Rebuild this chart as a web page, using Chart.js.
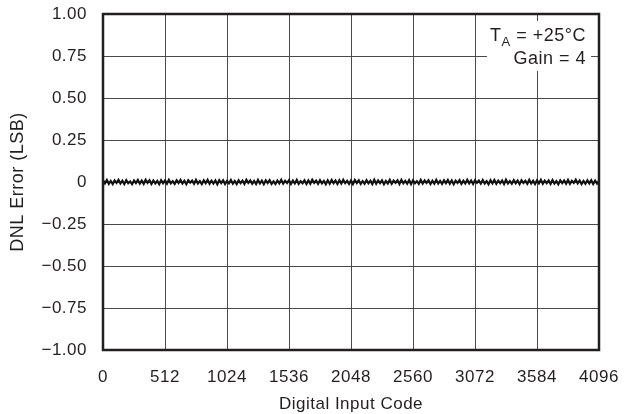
<!DOCTYPE html>
<html>
<head>
<meta charset="utf-8">
<script src="https://cdn.jsdelivr.net/npm/chart.js@4.4.0/dist/chart.umd.min.js"></script>
<style>
  html, body { margin: 0; padding: 0; background: #fff; }
  #wrap { width: 633px; height: 414px; }
</style>
</head>
<body>
<div id="wrap"><canvas id="dnlChart"></canvas></div>
<script>
// DNL error, one sample every 16 codes (LSB)
const codeStep = 16;
const dnlError = [
   0.010, -0.008,  0.012, -0.011,  0.006, -0.012,  0.009, -0.005,  0.013, -0.009,
   0.007, -0.012,  0.011, -0.007,  0.004, -0.013,  0.009, -0.006,  0.012, -0.010,
   0.008, -0.011,  0.013, -0.005,  0.010, -0.012,  0.009, -0.008,  0.006, -0.013,
   0.011, -0.007,  0.009, -0.010,  0.013, -0.008,  0.005, -0.011,  0.010, -0.006,
   0.012, -0.009,  0.007, -0.013,  0.010, -0.004,  0.008, -0.011,  0.012, -0.009,
   0.005, -0.012,  0.010, -0.007,  0.013, -0.010,  0.008, -0.009,  0.009, -0.013,
   0.011, -0.006,  0.010, -0.012,  0.007, -0.008,  0.012, -0.010,  0.006, -0.012,
   0.010, -0.007,  0.008, -0.011,  0.013, -0.005,  0.009, -0.010,  0.006, -0.012,
   0.012, -0.009,  0.008, -0.013,  0.010, -0.006,  0.011, -0.011,  0.004, -0.012,
   0.009, -0.008,  0.013, -0.010,  0.007, -0.006,  0.011, -0.012,  0.008, -0.009,
   0.012, -0.011,  0.005, -0.007,  0.010, -0.012,  0.009, -0.010,  0.013, -0.005,
   0.008, -0.011,  0.011, -0.008,  0.006, -0.013,  0.010, -0.010,  0.012, -0.007,
   0.009, -0.012,  0.010, -0.009,  0.013, -0.007,  0.007, -0.011,  0.009, -0.012,
   0.012, -0.006,  0.010, -0.011,  0.005, -0.010,  0.011, -0.008,  0.008, -0.012,
   0.013, -0.010,  0.009, -0.007,  0.010, -0.013,  0.006, -0.009,  0.012, -0.011,
   0.008, -0.005,  0.010, -0.012,  0.013, -0.008,  0.007, -0.010,  0.011, -0.012,
   0.010, -0.007,  0.005, -0.011,  0.012, -0.009,  0.009, -0.006,  0.010, -0.012,
   0.007, -0.010,  0.013, -0.009,  0.006, -0.011,  0.010, -0.007,  0.012, -0.010,
   0.009, -0.013,  0.008, -0.006,  0.011, -0.011,  0.007, -0.009,  0.013, -0.008,
   0.009, -0.012,  0.010, -0.005,  0.008, -0.010,  0.012, -0.009,  0.005, -0.013,
   0.010, -0.008,  0.012, -0.011,  0.008, -0.007,  0.009, -0.012,  0.013, -0.009,
   0.006, -0.010,  0.011, -0.007,  0.009, -0.013,  0.010, -0.006,  0.007, -0.011,
   0.012, -0.009,  0.007, -0.012,  0.010, -0.008,  0.013, -0.010,  0.008, -0.007,
   0.009, -0.011,  0.011, -0.009,  0.005, -0.013,  0.010, -0.007,  0.009, -0.010,
   0.012, -0.011,  0.007, -0.006,  0.013, -0.008,  0.009, -0.012,  0.006, -0.010,
   0.010, -0.008,  0.011, -0.012,  0.008, -0.009,  0.006
];
const xTicks = [0, 512, 1024, 1536, 2048, 2560, 3072, 3584, 4096];
const yTicks = [-1, -0.75, -0.5, -0.25, 0, 0.25, 0.5, 0.75, 1];
const yTickLabels = ['\u22121.00', '\u22120.75', '\u22120.50', '\u22120.25', '0', '0.25', '0.50', '0.75', '1.00'];
const noteLines = ['T', 'A', ' = +25\u00B0C', 'Gain = 4'];

const ink = '#231f20';
const fontFamily = '"Liberation Sans", Arial, Helvetica, sans-serif';

const points = dnlError.map((v, i) => ({ x: i * codeStep, y: v }));

// the datasheet type is set a little loose, so widen the letters a bit
const spacingPlugin = {
  id: 'spacing',
  beforeLayout(chart) { chart.ctx.letterSpacing = '0.5px'; },
  beforeDraw(chart) { chart.ctx.letterSpacing = '0.5px'; }
};

// frame around the plot area plus the condition note in the top right corner
const framePlugin = {
  id: 'frame',
  afterDraw(chart) {
    const { ctx, chartArea: a } = chart;
    ctx.save();
    // white box behind the note hides the grid lines
    ctx.fillStyle = '#fff';
    ctx.fillRect(487, 21, 104, 50);
    ctx.fillStyle = ink;
    ctx.textBaseline = 'alphabetic';
    ctx.textAlign = 'right';
    ctx.font = '18px ' + fontFamily;
    const right = 586;
    ctx.fillText(noteLines[2], right, 41);
    const w1 = ctx.measureText(noteLines[2]).width;
    ctx.font = '13px ' + fontFamily;
    ctx.fillText(noteLines[1], right - w1, 46);
    const w2 = ctx.measureText(noteLines[1]).width;
    ctx.font = '18px ' + fontFamily;
    ctx.fillText(noteLines[0], right - w1 - w2, 41);
    ctx.fillText(noteLines[3], right, 64);
    // plot frame
    ctx.strokeStyle = ink;
    ctx.lineWidth = 2.5;
    ctx.strokeRect(a.left, a.top, a.right - a.left, a.bottom - a.top);
    ctx.restore();
  }
};

new Chart(document.getElementById('dnlChart'), {
  type: 'line',
  data: {
    datasets: [{
      data: points,
      borderColor: '#111',
      borderWidth: 2.2,
      pointRadius: 0,
      tension: 0,
      fill: false
    }]
  },
  options: {
    responsive: true,
    maintainAspectRatio: false,
    animation: false,
    events: [],
    layout: { padding: { left: 0, right: 34, top: 14, bottom: 0 } },
    plugins: {
      legend: { display: false },
      tooltip: { enabled: false }
    },
    scales: {
      x: {
        type: 'linear',
        min: 0,
        max: 4096,
        afterFit: (s) => { s.height = 64; s.paddingLeft = 0; s.paddingRight = 0; },
        afterBuildTicks: (s) => { s.ticks = xTicks.map(v => ({ value: v })); },
        grid: { color: '#4a4a4a', lineWidth: 1, drawTicks: false },
        border: { display: false },
        ticks: {
          color: ink,
          padding: 17,
          maxRotation: 0,
          font: { family: fontFamily, size: 17 },
          callback: (v) => String(v)
        },
        title: {
          display: true,
          text: 'Digital Input Code',
          color: ink,
          font: { family: fontFamily, size: 17, lineHeight: 1 },
          padding: { top: 0, bottom: 1 }
        }
      },
      y: {
        min: -1,
        max: 1,
        afterFit: (s) => { s.width = 103; s.paddingTop = 0; s.paddingBottom = 0; },
        afterBuildTicks: (s) => { s.ticks = yTicks.map(v => ({ value: v })); },
        grid: { color: '#4a4a4a', lineWidth: 1, drawTicks: false },
        border: { display: false },
        ticks: {
          color: ink,
          padding: 16,
          font: { family: fontFamily, size: 17 },
          callback: (v) => yTickLabels[yTicks.indexOf(v)]
        },
        title: {
          display: true,
          text: 'DNL Error (LSB)',
          color: ink,
          font: { family: fontFamily, size: 18, lineHeight: 1 },
          padding: { top: 9, bottom: 0 }
        }
      }
    }
  },
  plugins: [spacingPlugin, framePlugin]
});
</script>
</body>
</html>
